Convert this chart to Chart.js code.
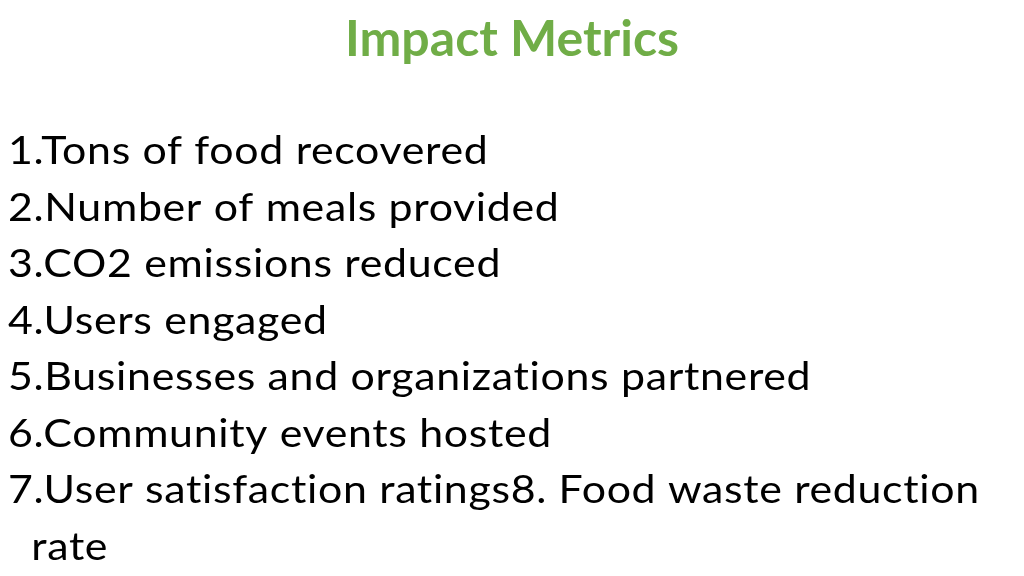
<!DOCTYPE html>
<html>
<head>
<meta charset="utf-8">
<script src="https://cdn.jsdelivr.net/npm/chart.js@4"></script>
<style>
  html, body { margin: 0; padding: 0; background: #fff; }
  #wrap { width: 1024px; height: 576px; }
</style>
</head>
<body>
<div id="wrap"><canvas id="slide" width="1024" height="576"></canvas></div>
<script>
const titleText = "Impact Metrics";
const metricLines = [
    "1.Tons of food recovered",
    "2.Number of meals provided",
    "3.CO2 emissions reduced",
    "4.Users engaged",
    "5.Businesses and organizations partnered",
    "6.Community events hosted",
    "7.User satisfaction ratings8. Food waste reduction",
    "  rate"
];

// draws the bullet lines onto the chart canvas
const listPlugin = {
    id: "listText",
    afterDraw(chart) {
        const ctx = chart.ctx;
        ctx.save();
        ctx.fillStyle = "#000";
        ctx.font = "39px Lato, 'Open Sans', sans-serif";
        ctx.letterSpacing = "0.6px";
        ctx.textBaseline = "alphabetic";
        ctx.translate(8, 0);
        ctx.scale(1.1, 1);
        metricLines.forEach((line, i) => {
            ctx.fillText(line, 0, 164 + i * 56.5);
        });
        ctx.restore();
    }
};

new Chart(document.getElementById("slide"), {
    type: "bar",
    data: { labels: [], datasets: [] },
    options: {
        responsive: false,
        animation: false,
        scales: { x: { display: false }, y: { display: false } },
        plugins: {
            legend: { display: false },
            tooltip: { enabled: false },
            title: {
                display: true,
                text: titleText,
                color: "#70AD47",
                font: { family: "Lato", size: 50, weight: "bold" },
                padding: { top: 10, bottom: 10 }
            }
        }
    },
    plugins: [listPlugin]
});
</script>
</body>
</html>
